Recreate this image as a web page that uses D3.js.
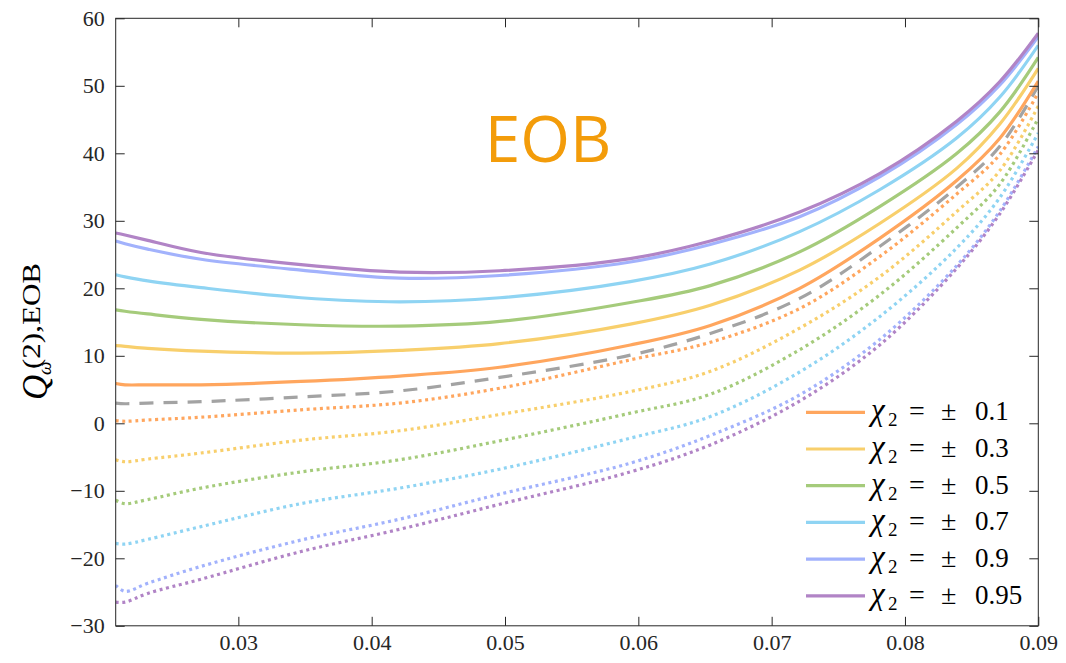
<!DOCTYPE html>
<html><head><meta charset="utf-8">
<script src="https://cdn.jsdelivr.net/npm/d3@7"></script>
<style>body{margin:0;background:#fff} svg{display:block}</style>
</head><body>
<svg id="chart" width="1066" height="663"></svg>
<script>
// ---- data ----
const xValues = [0.0208, 0.0215, 0.0232, 0.0272, 0.0347, 0.0421, 0.0496, 0.0594, 0.0654, 0.0721, 0.0781, 0.0839, 0.0871, 0.09];

// solid: chi2 = +value
const solid01  = [5.9, 5.7, 5.7, 5.7, 6.2, 7.0, 8.3, 11.6, 14.5, 20.0, 27.4, 36.0, 42.2, 50.7];
const solid03  = [11.5, 11.4, 11.1, 10.7, 10.4, 10.8, 11.8, 14.7, 17.5, 22.7, 29.6, 37.8, 44.3, 52.6];
const solid05  = [16.8, 16.6, 16.2, 15.4, 14.6, 14.4, 15.1, 17.9, 20.4, 25.4, 32.1, 40.0, 46.1, 54.2];
const solid07  = [22.0, 21.7, 21.1, 20.1, 18.6, 18.0, 18.6, 21.0, 23.6, 28.4, 34.6, 42.3, 48.3, 56.0];
const solid09  = [27.0, 26.6, 25.8, 24.3, 22.7, 21.5, 21.9, 23.9, 26.5, 30.6, 36.5, 44.3, 50.1, 57.3];
const solid095 = [28.2, 27.9, 27.1, 25.3, 23.5, 22.4, 22.6, 24.4, 27.0, 31.3, 37.0, 44.8, 50.6, 57.8];
// dashed: chi2 = 0
const dashed0  = [3.0, 2.9, 3.0, 3.2, 3.9, 4.8, 6.8, 10.1, 13.3, 18.5, 26.2, 35.0, 41.0, 50.0];
// dotted: chi2 = -value
const dotted01  = [0.4, 0.3, 0.5, 0.9, 2.0, 3.0, 5.2, 9.4, 12.0, 17.0, 24.7, 34.0, 39.8, 49.0];
const dotted03  = [-5.4, -5.7, -5.3, -4.4, -2.5, -1.1, 1.3, 4.7, 7.7, 14.1, 21.7, 31.4, 37.4, 47.0];
const dotted05  = [-11.4, -11.9, -11.3, -9.6, -7.2, -5.4, -2.6, 1.5, 4.3, 10.9, 19.0, 29.0, 35.4, 45.2];
const dotted07  = [-17.8, -17.9, -17.2, -15.3, -11.9, -9.6, -6.8, -2.2, 1.0, 7.6, 15.8, 26.0, 33.4, 43.0];
const dotted09  = [-24.0, -24.9, -23.7, -21.2, -17.3, -14.2, -10.5, -5.9, -1.8, 4.2, 12.4, 23.4, 31.4, 41.0];
const dotted095 = [-26.5, -26.5, -25.2, -23.1, -19.0, -15.7, -12.0, -7.2, -3.2, 3.3, 11.6, 23.0, 31.0, 40.5];

const chiLabels = ["0.1", "0.3", "0.5", "0.7", "0.9", "0.95"];
const seriesColors = ["#FFA65E", "#F8CF6C", "#A5CB7B", "#8FD4F3", "#A2B2FC", "#B184C6"];
const zeroColor = "#A3A3A3";
const xTicks = [0.03, 0.04, 0.05, 0.06, 0.07, 0.08, 0.09];
const yTicks = [-30, -20, -10, 0, 10, 20, 30, 40, 50, 60];
const xDomain = [0.0208, 0.09];
const yDomain = [-30, 60];

const solids = [solid01, solid03, solid05, solid07, solid09, solid095];
const dotteds = [dotted01, dotted03, dotted05, dotted07, dotted09, dotted095];

// ---- layout ----
const svg = d3.select("#chart");
const L = 115.7, R = 1038.3, T = 18.3, B = 625.8;
const x = d3.scaleLinear().domain(xDomain).range([L, R]);
const y = d3.scaleLinear().domain(yDomain).range([B, T]);
const axisColor = "#262626";
const serif = "Liberation Serif, Times New Roman, serif";

const line = d3.line()
  .x((d, i) => x(xValues[i]))
  .y(d => y(d))
  .curve(d3.curveCatmullRom.alpha(0.5));

const plot = svg.append("g");
plot.append("defs").append("clipPath").attr("id", "clip")
  .append("rect").attr("x", L).attr("y", T).attr("width", R - L).attr("height", B - T);
const lines = plot.append("g").attr("clip-path", "url(#clip)");

dotteds.forEach((s, k) => {
  lines.append("path").attr("d", line(s)).attr("fill", "none")
    .attr("stroke", seriesColors[k]).attr("stroke-width", 3.2)
    .attr("stroke-dasharray", "3,3.6");
});
lines.append("path").attr("d", line(dashed0)).attr("fill", "none")
  .attr("stroke", zeroColor).attr("stroke-width", 3.2)
  .attr("stroke-dasharray", "14,10");
solids.forEach((s, k) => {
  lines.append("path").attr("d", line(s)).attr("fill", "none")
    .attr("stroke", seriesColors[k]).attr("stroke-width", 3.2);
});

// ---- axes ----
function styleAxis(g, hideText) {
  g.attr("font-family", serif).attr("font-size", 22);
  g.select(".domain").remove();
  g.selectAll(".tick line").attr("stroke", axisColor).attr("stroke-width", 1);
  g.selectAll(".tick text").attr("fill", axisColor)
    .attr("font-family", serif).style("font-family", serif).style("font-size", "22px");
  if (hideText) g.selectAll(".tick text").remove();
}
svg.append("g").attr("transform", `translate(0,${B})`)
  .call(d3.axisBottom(x).tickValues(xTicks).tickFormat(d3.format(".2f")).tickSizeInner(-9).tickSizeOuter(0).tickPadding(9))
  .call(g => styleAxis(g, false));
svg.append("g").attr("transform", `translate(0,${T})`)
  .call(d3.axisTop(x).tickValues(xTicks).tickSizeInner(-9).tickSizeOuter(0))
  .call(g => styleAxis(g, true));
svg.append("g").attr("transform", `translate(${L},0)`)
  .call(d3.axisLeft(y).tickValues(yTicks).tickFormat(d3.format("d")).tickSizeInner(-9).tickSizeOuter(0).tickPadding(11))
  .call(g => styleAxis(g, false));
svg.append("g").attr("transform", `translate(${R},0)`)
  .call(d3.axisRight(y).tickValues(yTicks).tickSizeInner(-9).tickSizeOuter(0))
  .call(g => styleAxis(g, true));
svg.append("rect").attr("x", L).attr("y", T).attr("width", R - L).attr("height", B - T)
  .attr("fill", "none").attr("stroke", axisColor).attr("stroke-width", 1);

// ---- y label Q_ω^{(2),EOB} ----
const yl = svg.append("g").attr("transform", "translate(47,400) rotate(-90)")
  .attr("font-family", serif).style("font-family", serif).attr("fill", "#000");
yl.append("text").attr("x", 0).attr("y", 0).style("font-size", "35px").style("font-style", "italic").text("Q");
yl.append("text").attr("x", 25).attr("y", 4).style("font-size", "19px").style("font-style", "italic").text("ω");
yl.append("text").attr("x", 31).attr("y", -7).style("font-size", "25px")
  .attr("textLength", 106).attr("lengthAdjust", "spacingAndGlyphs").text("(2),EOB");

// ---- EOB annotation ----
svg.append("text").attr("x", 548).attr("y", 162).attr("text-anchor", "middle")
  .style("font-family", "'Open Sans', 'Noto Sans', sans-serif").style("font-size", "64px")
  .attr("fill", "#F39C0A").text("EOB");

// ---- legend ----
const legY0 = 412.3, legDy = 36.7, legX0 = 806, legX1 = 865;
const leg = svg.append("g").attr("font-family", serif).style("font-family", serif).attr("fill", "#000");
chiLabels.forEach((lab, k) => {
  const yy = legY0 + k * legDy;
  leg.append("line").attr("x1", legX0).attr("x2", legX1).attr("y1", yy).attr("y2", yy)
    .attr("stroke", seriesColors[k]).attr("stroke-width", 3.2);
  const b = yy + 8;
  leg.append("text").attr("x", 871).attr("y", b).style("font-size", "31px").style("font-style", "italic").text("χ");
  leg.append("text").attr("x", 888).attr("y", b + 6).style("font-size", "19px").text("2");
  leg.append("text").attr("x", 909).attr("y", b).style("font-size", "28px").text("=");
  leg.append("text").attr("x", 941).attr("y", b).style("font-size", "28px").text("±");
  leg.append("text").attr("x", 975).attr("y", b).style("font-size", "27px").text(lab);
});
</script>
</body></html>
